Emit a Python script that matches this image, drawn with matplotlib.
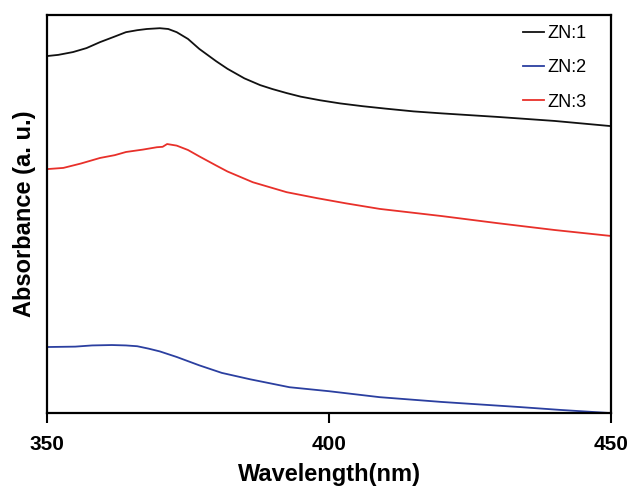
import numpy as np
import matplotlib
matplotlib.use('Agg')
import matplotlib.pyplot as plt

# Absorbance (arbitrary units, 0 = axis bottom, 1 = axis top)
wl_zn1 = [350, 352, 354.6, 357, 359.4, 362, 364, 366, 367.7, 370, 371.5, 373, 375, 377, 380, 382, 385, 387.8,
          390, 392.5, 395, 398.4, 402, 406, 410, 415, 420, 430, 440, 450]
abs_zn1 = [0.897, 0.900, 0.907, 0.917, 0.932, 0.946, 0.957, 0.962, 0.965, 0.967, 0.965, 0.957, 0.940, 0.915, 0.884, 0.865,
           0.841, 0.824, 0.814, 0.804, 0.795, 0.786, 0.778, 0.771, 0.765, 0.758, 0.753, 0.744, 0.734, 0.721]

wl_zn2 = [350, 355, 358, 361.5, 364, 366, 368, 370, 373, 377, 381, 386, 393, 400, 409, 420, 434, 441, 450]
abs_zn2 = [0.166, 0.167, 0.170, 0.171, 0.170, 0.168, 0.162, 0.155, 0.141, 0.120, 0.101, 0.085, 0.065, 0.055, 0.040, 0.028, 0.015, 0.008, 0.0]

wl_zn3 = [350, 352.9, 356, 359.4, 362, 364, 367, 369.5, 370.5, 371.3, 373, 375, 377, 380, 382, 386.5, 392.5, 397.9,
          403, 409, 420, 430, 440, 450]
abs_zn3 = [0.613, 0.616, 0.627, 0.641, 0.648, 0.656, 0.662, 0.668, 0.669, 0.676, 0.672, 0.661, 0.645, 0.622, 0.607, 0.580,
           0.555, 0.540, 0.527, 0.513, 0.495, 0.477, 0.460, 0.445]

fig = plt.figure(figsize=(6.3, 4.86), dpi=100)
ax = fig.add_axes([0.0746, 0.150, 0.8952, 0.819])

ax.plot(wl_zn1, abs_zn1, color='#111111', lw=1.3, label='ZN:1')
ax.plot(wl_zn2, abs_zn2, color='#2b3fa0', lw=1.3, label='ZN:2')
ax.plot(wl_zn3, abs_zn3, color='#e8302a', lw=1.3, label='ZN:3')

ax.set_xlim(350, 450)
ax.set_ylim(0, 1)
ax.set_xticks([350, 400, 450])
ax.set_yticks([])
ax.tick_params(axis='x', direction='out', length=7, width=1.5, pad=9)
for lbl in ax.get_xticklabels():
    lbl.set_fontweight('bold')
    lbl.set_fontsize(15)
    lbl.set_family('Liberation Sans')
for s in ax.spines.values():
    s.set_linewidth(1.6)

ax.set_xlabel('Wavelength(nm)', fontsize=17, fontweight='bold', family='Liberation Sans', labelpad=6)
ax.set_ylabel('Absorbance (a. u.)', fontsize=17, fontweight='bold', family='Liberation Sans', labelpad=8)

leg = ax.legend(loc='upper right', bbox_to_anchor=(0.985, 1.015), frameon=False, handlelength=1.2,
                handletextpad=0.15, labelspacing=0.95, prop={'family': 'Liberation Sans', 'size': 13})

fig.savefig('out.png', dpi=100)
